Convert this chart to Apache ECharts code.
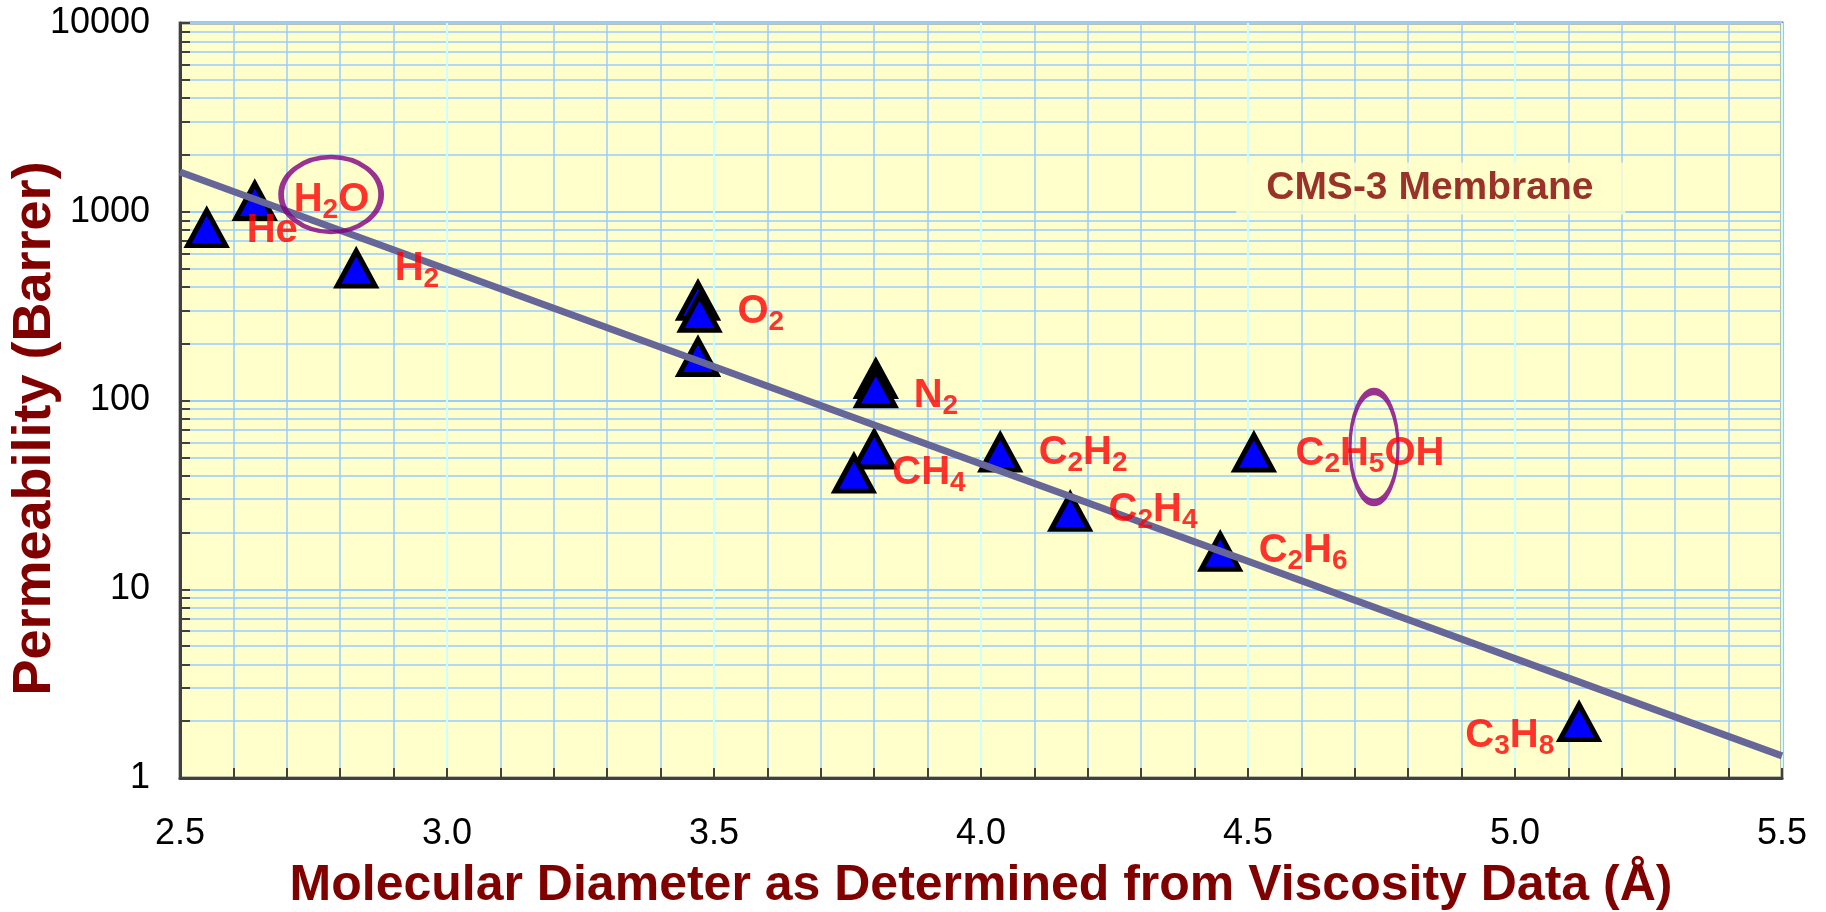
<!DOCTYPE html>
<html>
<head>
<meta charset="utf-8">
<script src="https://cdn.jsdelivr.net/npm/echarts@6/dist/echarts.min.js"></script>
<style>
  html, body { margin: 0; padding: 0; background: #fff; }
  #chart { width: 1826px; height: 912px; }
</style>
</head>
<body>
<div id="chart"></div>
<script>
// measured gases: diameter (Å) and permeability (Barrer)
var diameter = [2.55, 2.64, 2.83, 3.47, 3.473, 3.47, 3.803, 3.803, 3.80, 3.762, 4.036, 4.167, 4.448, 4.511, 5.12];
var permeability = [820, 1140, 500, 337, 291, 170, 130, 116, 55, 41, 53, 25.7, 15.8, 53, 1.98];

// fitted trend line end points
var trendX = [2.5, 5.5];
var trendY = [1625, 1.31];

// gas labels (rich text: m = main, s = subscript), anchored at left / middle
var labelText = ['{m|He}', '{m|H}{s|2}{m|O}', '{m|H}{s|2}', '{m|O}{s|2}', '{m|N}{s|2}', '{m|CH}{s|4}',
  '{m|C}{s|2}{m|H}{s|2}', '{m|C}{s|2}{m|H}{s|4}', '{m|C}{s|2}{m|H}{s|6}', '{m|C}{s|2}{m|H}{s|5}{m|OH}', '{m|C}{s|3}{m|H}{s|8}'];
var labelX = [2.624, 2.712, 2.901, 3.543, 3.873, 3.833, 4.107, 4.238, 4.519, 4.588, 4.906];
var labelY = [830, 1211, 522, 309, 111, 43.4, 55.3, 27.6, 16.7, 54.7, 1.75];

// highlighted species (ellipses)
var ringX = [2.783, 4.736];
var ringY = [1234, 56.7];

var noteText = 'CMS-3 Membrane';
var noteX = 4.477;
var noteY = 1328;

var xTickLabels = ['2.5', '3.0', '3.5', '4.0', '4.5', '5.0', '5.5'];
var yTickLabels = ['1', '10', '100', '1000', '10000'];

var FONT = '"Liberation Sans", Arial, sans-serif';
var chart = echarts.init(document.getElementById('chart'));

var gasPoints = diameter.map(function (d, i) { return [d, permeability[i]]; });
var trendPoints = trendX.map(function (d, i) { return [d, trendY[i]]; });
var labelPoints = labelX.map(function (d, i) { return { value: [d, labelY[i]], name: labelText[i] }; });
var ringSizes = [[100, 75], [48, 111]];
var ringPoints = ringX.map(function (d, i) { return { value: [d, ringY[i]], symbolSize: ringSizes[i] }; });

var axisColor = '#404040';

chart.setOption({
  animation: false,
  grid: {
    left: 180, top: 23, right: 44, bottom: 134,
    containLabel: false, outerBoundsMode: 'none',
    show: true, backgroundColor: '#ffffcc', borderColor: '#808080', borderWidth: 3
  },
  xAxis: {
    type: 'value', min: 2.5, max: 5.5, interval: 0.5,
    name: 'Molecular Diameter as Determined from Viscosity Data (Å)',
    nameLocation: 'middle', nameGap: 83, nameMoveOverlap: false,
    nameTextStyle: { fontFamily: FONT, fontSize: 50, fontWeight: 'bold', color: '#800000', lineHeight: 51 },
    axisLine: { show: true, onZero: false, lineStyle: { color: axisColor, width: 3 } },
    axisTick: { show: true, inside: true, length: 10, lineStyle: { color: axisColor, width: 2 } },
    minorTick: { show: true, splitNumber: 5, length: 10, lineStyle: { color: axisColor, width: 2 } },
    splitLine: { show: true, lineStyle: { color: '#ccffff', width: 2 } },
    minorSplitLine: { show: true, lineStyle: { color: '#99ccff', width: 1.5 } },
    axisLabel: {
      margin: 38, fontFamily: FONT, fontSize: 36, color: '#000', lineHeight: 36,
      formatter: function (v) { return xTickLabels[Math.round((v - 2.5) / 0.5)]; }
    }
  },
  yAxis: {
    type: 'log', logBase: 10, min: 1, max: 10000,
    name: 'Permeability (Barrer)',
    nameLocation: 'middle', nameGap: 118, nameMoveOverlap: false,
    nameTextStyle: { fontFamily: FONT, fontSize: 54, fontWeight: 'bold', color: '#800000', lineHeight: 54, padding: [0, 56, 0, 0] },
    axisLine: { show: true, lineStyle: { color: axisColor, width: 3 } },
    axisTick: { show: true, inside: true, length: 10, lineStyle: { color: axisColor, width: 2 } },
    minorTick: { show: true, splitNumber: 9, length: 10, lineStyle: { color: axisColor, width: 2 } },
    splitLine: { show: true, lineStyle: { color: '#99ccff', width: 2 } },
    minorSplitLine: { show: true, lineStyle: { color: '#99ccff', width: 1.5 } },
    axisLabel: {
      margin: 30, fontFamily: FONT, fontSize: 36, color: '#000',
      formatter: function (v) { return yTickLabels[Math.round(Math.log10(v))]; }
    }
  },
  series: [
    {
      type: 'scatter', z: 2, data: gasPoints,
      symbol: 'triangle', symbolSize: [38, 35],
      itemStyle: { color: '#0000ff', borderColor: '#000', borderWidth: 5, opacity: 1 }
    },
    {
      type: 'line', z: 3, data: trendPoints, showSymbol: false, symbol: 'none',
      lineStyle: { color: '#666699', width: 7 }
    },
    {
      type: 'scatter', z: 5, data: ringPoints, symbol: 'circle',
      itemStyle: { color: 'rgba(0,0,0,0)', borderColor: '#800080', borderWidth: 5 }
    },
    {
      type: 'scatter', z: 6, data: labelPoints, symbolSize: 1,
      itemStyle: { color: 'rgba(0,0,0,0)' },
      label: {
        show: true, position: 'right', distance: 0, offset: [0, 4],
        formatter: function (p) { return p.name; },
        rich: {
          m: { fontFamily: FONT, fontSize: 40, fontWeight: 'bold', color: '#ff0000', lineHeight: 46 },
          s: { fontFamily: FONT, fontSize: 28, fontWeight: 'bold', color: '#ff0000', lineHeight: 30, padding: [21, 0, 0, 0] }
        }
      }
    },
    {
      type: 'scatter', z: 4, data: [[noteX, noteY]], symbolSize: 1,
      itemStyle: { color: 'rgba(0,0,0,0)' },
      label: {
        show: true, position: 'right', distance: 0,
        formatter: noteText,
        fontFamily: FONT, fontSize: 39, fontWeight: 'bold', color: '#800000', lineHeight: 40,
        backgroundColor: '#ffffcc', padding: [6, 32, 6, 30]
      }
    }
  ]
});
</script>
</body>
</html>
